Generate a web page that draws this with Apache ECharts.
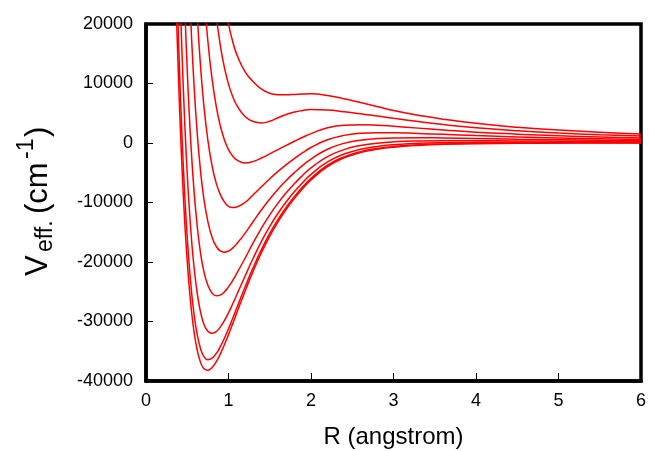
<!DOCTYPE html>
<html>
<head>
<meta charset="utf-8">
<script src="https://cdn.jsdelivr.net/npm/echarts@6/dist/echarts.min.js"></script>
<style>
html,body{margin:0;padding:0;background:#fff;}
#chart{width:649px;height:451px;}
</style>
</head>
<body>
<div id="chart"></div>
<script>
// R grid (angstrom), shared by all curves; each curve's values align to the END of this grid
var rValues = [0.36,0.37,0.38,0.39,0.40,0.41,0.42,0.43,0.44,0.46,0.48,0.50,0.52,0.55,0.58,0.62,0.66,0.70,0.75,0.80,0.85,0.90,0.95,1.00,1.05,1.10,1.20,1.30,1.40,1.50,1.60,1.70,1.80,1.90,2.00,2.20,2.40,2.60,2.80,3.00,3.30,3.60,4.00,4.50,5.00,5.50,6.00];

var curve1 = [26170,21290,16720,12570,8520,4720,1220,-2110,-5230,-10850,-15740,-19900,-23560,-28040,-31480,-34750,-36800,-37880,-38190,-37740,-36790,-35480,-33920,-32210,-30400,-28550,-24950,-21500,-18400,-15650,-13250,-11150,-9300,-7650,-6200,-3950,-2500,-1600,-1050,-700,-400,-230,-120,-50,-20,-8,-3];
var curve2 = [33910,28620,23670,19170,14790,10690,6910,3320,-50,-6110,-11390,-15890,-19850,-24720,-28500,-32140,-34500,-35830,-36410,-36170,-35400,-34240,-32810,-31210,-29490,-27720,-24250,-20910,-17890,-15200,-12860,-10800,-8990,-7370,-5950,-3740,-2330,-1450,-920,-590,-310,-150,-60,0,20,25,25];
var curve3 = [31520,26610,22080,17790,13780,6540,230,-5180,-9950,-15880,-20540,-25180,-28350,-30370,-31650,-31990,-31700,-30940,-29840,-28530,-27060,-25510,-22400,-19320,-16520,-14020,-11810,-9880,-8160,-6630,-5280,-3190,-1860,-1060,-580,-290,-60,50,110,130,130,115,100];
var curve4 = [27090,19100,12210,6130,-1500,-7620,-13870,-18370,-21500,-23920,-25200,-25680,-25570,-25030,-24180,-23120,-21920,-19380,-16750,-14300,-12080,-10110,-8370,-6820,-5430,-4190,-2290,-1110,-410,-30,190,340,390,380,350,300,260,220];
var curve5 = [28400,18400,10280,1800,-4550,-9210,-13210,-15790,-17350,-18140,-18350,-18160,-17660,-16940,-15190,-13190,-11230,-9410,-7760,-6290,-4960,-3760,-2690,-1050,-60,480,740,860,890,850,760,640,540,460,390];
var curve6 = [33160,21810,13110,6490,460,-3770,-6700,-8640,-9900,-10650,-10850,-10750,-10000,-8700,-7350,-6000,-4760,-3630,-2590,-1630,-760,540,1280,1620,1720,1720,1600,1450,1240,1020,850,710,600];
var curve7 = [25610,17110,10870,6270,2930,550,-1100,-2180,-2840,-3350,-3090,-2530,-1820,-1100,-390,300,970,1580,2550,3000,3080,3000,2820,2500,2200,1820,1490,1220,1020,860];
var curve8 = [28100,21500,16500,12700,9900,7850,6350,4450,3600,3380,3650,4250,4800,5200,5480,5610,5550,5250,4900,4550,4150,3600,3100,2560,2050,1680,1390,1170];
var curve9 = [23800,20000,17100,14900,12000,10300,9050,8350,8120,8100,8170,8250,8280,8000,7450,6800,6150,5480,4680,4000,3300,2650,2170,1800,1520];

var xTicks = [0,1,2,3,4,5,6];
var yTicks = [-40000,-30000,-20000,-10000,0,10000,20000];

var curves = [curve1,curve2,curve3,curve4,curve5,curve6,curve7,curve8,curve9];

function toPairs(vals){
  var off = rValues.length - vals.length;
  return vals.map(function(v,i){ return [rValues[off+i], v]; });
}

var FONT = '"Liberation Sans", Arial, Helvetica, sans-serif';
var chart = echarts.init(document.getElementById('chart'), null, {renderer:'canvas'});

var series = curves.map(function(c){
  return {
    type:'line', data: toPairs(c), showSymbol:false, smooth:0.5,
    lineStyle:{color:'#ff0000', width:1.5}, clip:true, silent:true
  };
});

var option = {
  animation:false,
  backgroundColor:'#ffffff',
  grid:{left:146, right:8, top:24, bottom:70, containLabel:false, outerBoundsMode:'none',
        show:true, borderColor:'#000', borderWidth:3.5, backgroundColor:'transparent'},
  xAxis:{
    type:'value', min:xTicks[0], max:xTicks[xTicks.length-1], interval:1,
    axisLine:{show:true, onZero:false, lineStyle:{color:'#000', width:3.5}},
    axisTick:{show:true, inside:true, length:8, lineStyle:{color:'#000', width:1}},
    axisLabel:{color:'#000', fontSize:18, fontFamily:FONT, margin:11},
    splitLine:{show:false},
    name:'R (angstrom)', nameLocation:'middle', nameGap:44,
    nameTextStyle:{color:'#000', fontSize:24, fontFamily:FONT}
  },
  yAxis:{
    type:'value', min:yTicks[0], max:yTicks[yTicks.length-1], interval:10000,
    axisLine:{show:true, onZero:false, lineStyle:{color:'#000', width:3.5}},
    axisTick:{show:true, inside:true, length:7, lineStyle:{color:'#000', width:1}},
    axisLabel:{color:'#000', fontSize:18, fontFamily:FONT, margin:13,
               formatter:function(v){ return String(v); }},
    splitLine:{show:false}
  },
  graphic:[{
    type:'group', x:38, y:188, rotation:Math.PI/2,
    children:[
      {type:'text', x:-88, y:0, style:{text:'V', font:'31px '+FONT, fill:'#000', verticalAlign:'middle'}},
      {type:'text', x:-64, y:8, style:{text:'eff.', font:'23px '+FONT, fill:'#000', verticalAlign:'middle'}},
      {type:'text', x:-26, y:0, style:{text:'(cm', font:'31px '+FONT, fill:'#000', verticalAlign:'middle'}},
      {type:'text', x:29, y:-11, style:{text:'-1', font:'23px '+FONT, fill:'#000', verticalAlign:'middle'}},
      {type:'text', x:51, y:0, style:{text:')', font:'31px '+FONT, fill:'#000', verticalAlign:'middle'}}
    ]
  }],
  series:series
};
chart.setOption(option);
</script>
</body>
</html>
